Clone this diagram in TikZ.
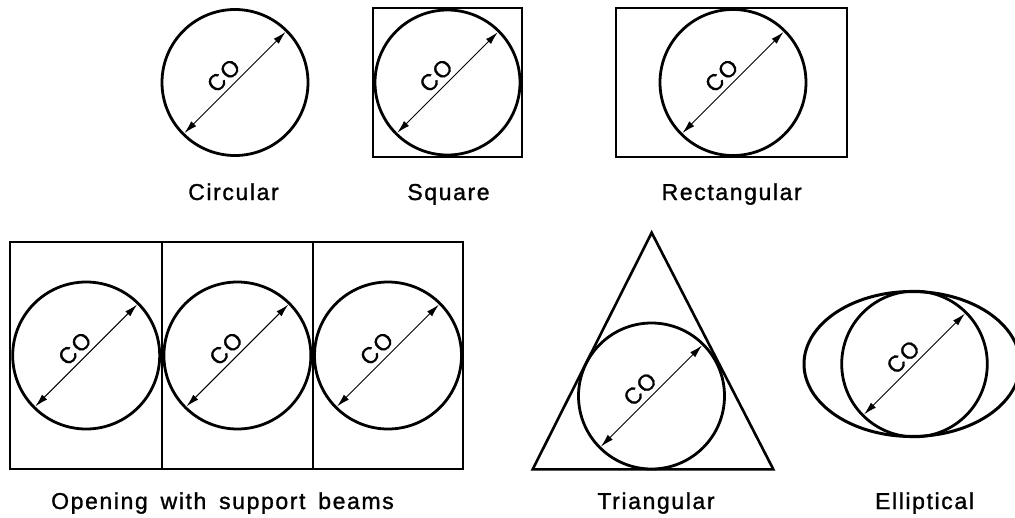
\documentclass[tikz,border=0pt]{standalone}
\usepackage{fontspec}
\newfontfamily\labelfont{Liberation Sans}[LetterSpace=7, WordSpace=1.6, FakeBold=1.2]
\usetikzlibrary{arrows.meta,calc}
\tikzset{
  hole/.style={circle, draw, line width=2.8pt, inner sep=0pt, outer sep=0pt, minimum size=#1},
  frame/.style={draw, line width=2.2pt},
  dim/.style={line width=1pt, {Latex[length=13pt,width=7pt]}-{Latex[length=13pt,width=7pt]}, shorten <=1.5pt, shorten >=1.5pt},
  co/.style={rotate=45, anchor=south, inner sep=0pt, font=\labelfont\fontsize{23}{27}\selectfont},
  caption/.style={anchor=base, inner sep=0pt, font=\labelfont\fontsize{23}{27}\selectfont}
}
\newcommand{\dimco}[1]{%
  \draw[dim] (#1.225) -- (#1.45);
  \node[co] (#1co) at ($(#1.center)+(-5.5,-1)$) {CO};
}
\begin{document}
\begin{tikzpicture}[x=1pt,y=-1pt]
\useasboundingbox (0,0) rectangle (1015,517);

% Circular
\node[hole=146pt] (c1) at (235,82.5) {};
\dimco{c1}
\node[caption] (l1) at (233.5,200) {Circular};

% Square
\node[frame, minimum width=148.4pt, minimum height=148.4pt, inner sep=0pt] (sq) at (447.5,82.5) {};
\node[hole=145pt] (c2) at (447.5,82.5) {};
\dimco{c2}
\node[caption] (l2) at (448.5,200) {Square};

% Rectangular
\node[frame, minimum width=230.7pt, minimum height=148.4pt, inner sep=0pt] (re) at (731.3,82.5) {};
\node[hole=146pt] (c3) at (733,82.5) {};
\dimco{c3}
\node[caption] (l3) at (731.7,200) {Rectangular};

% Opening with support beams
\coordinate (b1) at (10,241.7);
\coordinate (b2) at (463.3,469.3);
\draw[frame] (b1) rectangle (b2);
\coordinate (d1t) at (162.3,241.7);
\coordinate (d1b) at (162.3,469.3);
\coordinate (d2t) at (312.7,241.7);
\coordinate (d2b) at (312.7,469.3);
\draw[frame] (d1t) -- (d1b);
\draw[frame] (d2t) -- (d2b);
\node[hole=147pt] (c4) at (86.2,355.5) {};
\dimco{c4}
\node[hole=147pt] (c5) at (237.4,355.5) {};
\dimco{c5}
\node[hole=147pt] (c6) at (388,355.5) {};
\dimco{c6}
\node[caption] (l4) at (222.5,509) {Opening with support beams};

% Triangular
\coordinate (ta) at (651.7,232.7);
\coordinate (tb) at (532.7,469.3);
\coordinate (tc) at (773.3,469.3);
\draw[frame, line width=2.6pt, line join=miter] (ta) -- (tb) -- (tc) -- cycle;
\node[hole=146pt] (c7) at (651.5,396) {};
\dimco{c7}
\node[caption] (l5) at (656,509) {Triangular};

% Elliptical
\coordinate (ec) at (912,364);
\draw[line width=3pt] (ec) ellipse [x radius=108, y radius=72.5];
\node[hole=145.6pt] (c8) at (914.5,364) {};
\dimco{c8}
\node[caption] (l6) at (924.5,509) {Elliptical};
\end{tikzpicture}
\end{document}
